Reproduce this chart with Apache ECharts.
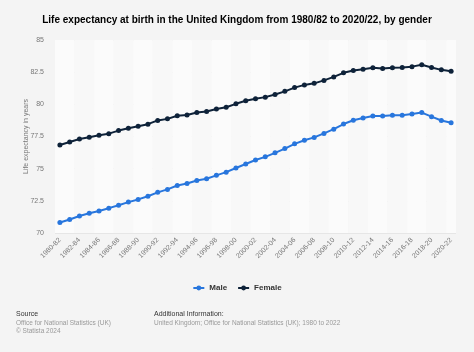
<!DOCTYPE html>
<html>
<head>
<meta charset="utf-8">
<script src="https://cdn.jsdelivr.net/npm/echarts@6/dist/echarts.min.js"></script>
<style>
html,body{margin:0;padding:0;background:#f4f4f4;}
#c{width:474px;height:352px;}
</style>
</head>
<body>
<div id="c"></div>
<script>
var categories = ["1980-82","1981-83","1982-84","1983-85","1984-86","1985-87","1986-88","1987-89","1988-90","1989-91",
"1990-92","1991-93","1992-94","1993-95","1994-96","1995-97","1996-98","1997-99","1998-00","1999-01",
"2000-02","2001-03","2002-04","2003-05","2004-06","2005-07","2006-08","2007-09","2008-10","2009-11",
"2010-12","2011-13","2012-14","2013-15","2014-16","2015-17","2016-18","2017-19","2018-20","2019-21","2020-22"];
var male = [70.81,71.05,71.32,71.54,71.71,71.93,72.16,72.40,72.61,72.86,
73.16,73.39,73.69,73.85,74.08,74.22,74.48,74.73,75.05,75.36,
75.67,75.92,76.23,76.56,76.93,77.21,77.43,77.74,78.07,78.47,
78.76,78.94,79.09,79.09,79.16,79.16,79.25,79.36,79.04,78.74,78.57];
var female = [76.84,77.07,77.31,77.45,77.59,77.72,77.96,78.14,78.30,78.46,
78.75,78.87,79.11,79.17,79.36,79.44,79.64,79.77,80.04,80.28,
80.44,80.56,80.77,81.01,81.30,81.51,81.63,81.86,82.13,82.45,
82.63,82.73,82.84,82.78,82.84,82.86,82.93,83.07,82.86,82.68,82.57];
var yTicks = [70, 72.5, 75, 77.5, 80, 82.5, 85];

var chart = echarts.init(document.getElementById('c'), null, {renderer:'canvas'});
var font = 'Liberation Sans, Arial, sans-serif';
chart.setOption({
  backgroundColor: '#f4f4f4',
  animation: false,
  textStyle: {fontFamily: font},
  title: {
    text: 'Life expectancy at birth in the United Kingdom from 1980/82 to 2020/22, by gender',
    left: 'center', top: 10,
    textStyle: {fontSize: 10, fontWeight: 'bold', color: '#000', fontFamily: font}
  },
  grid: {left: 55, right: 18, top: 40, bottom: 119, containLabel: false},
  legend: {
    top: 279, left: 'center',
    itemWidth: 11, itemHeight: 6, itemGap: 10,
    textStyle: {fontSize: 8, fontWeight: 'bold', color: '#333', fontFamily: font},
    data: ['Male', 'Female']
  },
  xAxis: {
    type: 'category',
    data: categories,
    boundaryGap: true,
    axisLine: {show: false},
    axisTick: {show: false, interval: 1},
    axisLabel: {interval: 1, rotate: 45, fontSize: 7, color: '#777', margin: 6, fontFamily: font},
    splitArea: {show: true, interval: 1, areaStyle: {color: ['#fbfbfb', '#f8f8f8']}},
    splitLine: {show: false}
  },
  yAxis: {
    type: 'value',
    min: yTicks[0], max: yTicks[yTicks.length - 1], interval: 2.5,
    name: 'Life expectancy in years',
    nameLocation: 'middle', nameGap: 25, nameMoveOverlap: false,
    nameTextStyle: {fontSize: 7, color: '#777', fontFamily: font},
    axisLine: {show: false},
    axisTick: {show: false},
    axisLabel: {fontSize: 7, color: '#777', margin: 11, fontFamily: font},
    splitLine: {lineStyle: {color: '#e6e6e6', width: 1}}
  },
  series: [
    {name: 'Male', type: 'line', data: male, symbol: 'circle', symbolSize: 5,
     itemStyle: {color: '#2876dd'}, lineStyle: {color: '#2876dd', width: 2}},
    {name: 'Female', type: 'line', data: female, symbol: 'circle', symbolSize: 5,
     itemStyle: {color: '#0e2239'}, lineStyle: {color: '#0e2239', width: 2}}
  ],
  graphic: [
    {type: 'text', left: 16, top: 311, style: {text: 'Source', fontSize: 7, fill: '#333', fontFamily: font}},
    {type: 'text', left: 16, top: 320, style: {text: 'Office for National Statistics (UK)', fontSize: 6.5, fill: '#999', fontFamily: font}},
    {type: 'text', left: 16, top: 328, style: {text: '\u00a9 Statista 2024', fontSize: 6.5, fill: '#999', fontFamily: font}},
    {type: 'text', left: 154, top: 311, style: {text: 'Additional Information:', fontSize: 7, fill: '#333', fontFamily: font}},
    {type: 'text', left: 154, top: 320, style: {text: 'United Kingdom; Office for National Statistics (UK); 1980 to 2022', fontSize: 6.5, fill: '#999', fontFamily: font}}
  ]
});
</script>
</body>
</html>
